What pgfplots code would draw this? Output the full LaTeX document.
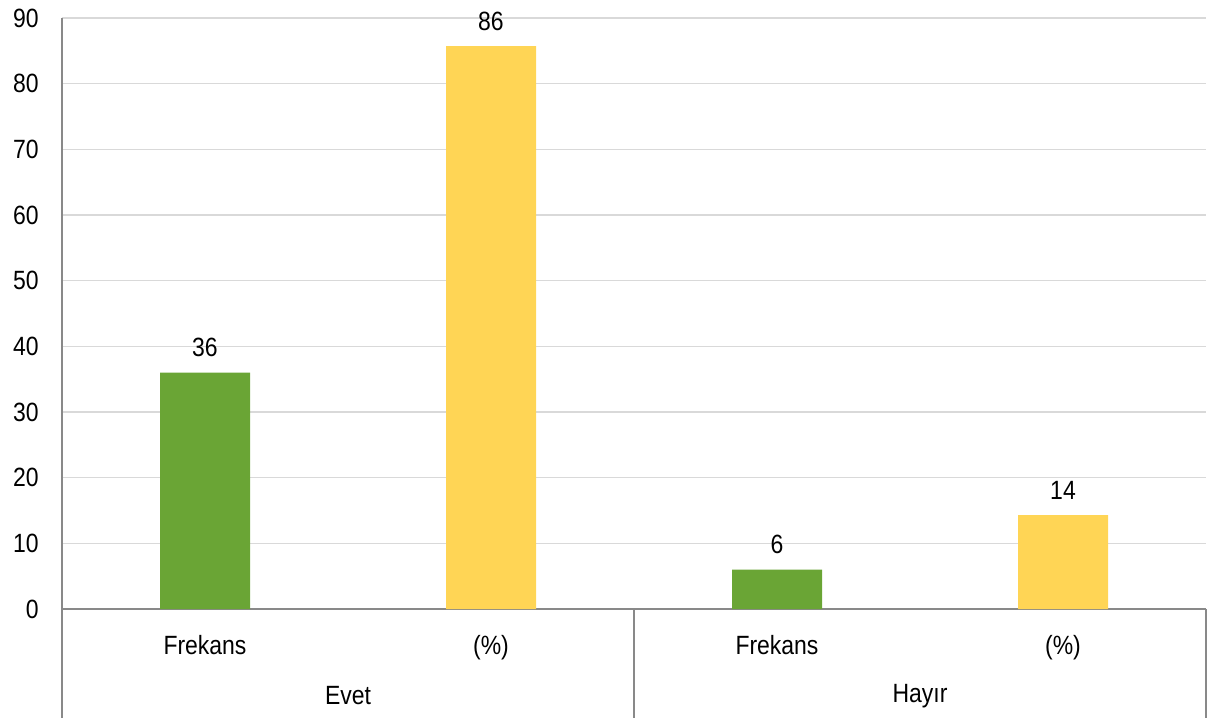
\documentclass[border=0pt]{standalone}
\usepackage{fontspec}
\setmainfont[FakeStretch=0.87]{Liberation Sans}
\usepackage{pgfplots}
\pgfplotsset{compat=1.18}
\definecolor{barGreen}{RGB}{106,165,53}
\definecolor{barYellow}{RGB}{255,213,85}
\definecolor{axGray}{RGB}{137,137,137}
\definecolor{gridGray}{RGB}{217,217,217}
\newcommand{\lbl}{\fontsize{19.8}{23}\selectfont}
\begin{document}
\begin{tikzpicture}
\begin{axis}[
  scale only axis,
  width=858pt, height=443.25pt,
  xmin=-0.5, xmax=3.5,
  ymin=0, ymax=90,
  ytick={0,10,...,90},
  xtick={0,1,2,3},
  xticklabels={Frekans,(\%),Frekans,(\%)},
  axis x line*=bottom, axis y line*=left,
  axis line style={axGray, line width=1.2pt, -},
  x axis line style={-}, y axis line style={-},
  major tick length=0pt,
  ymajorgrids, grid style={gridGray, line width=0.9pt},
  /pgf/number format/assume math mode=true,
  tick label style={font=\lbl, text=black},
  yticklabel style={xshift=-14pt},
  xticklabel style={yshift=-16pt},
  ybar, bar width=67.5pt, bar shift=0pt,
  clip=false,
  nodes near coords,
  point meta=explicit symbolic,
  every node near coord/.style={font=\lbl, text=black, anchor=south, yshift=8pt},
]
\addplot[draw=none, fill=barGreen] coordinates {(0,36) [36] (2,6) [6]};
\addplot[draw=none, fill=barYellow] coordinates {(1,85.7) [86] (3,14.3) [14]};
\draw[axGray, line width=1.2pt] (axis cs:-0.5,0) -- ([yshift=-81.75pt]axis cs:-0.5,0);
\draw[axGray, line width=1.2pt] (axis cs:1.5,0) -- ([yshift=-81.75pt]axis cs:1.5,0);
\draw[axGray, line width=1.2pt] (axis cs:3.5,0) -- ([yshift=-81.75pt]axis cs:3.5,0);
\node[font=\lbl] at ([yshift=-65pt]axis cs:0.5,0) {Evet};
\node[font=\lbl] at ([yshift=-65pt]axis cs:2.5,0) {Hayır};
\end{axis}
\path[use as bounding box] (-46.5pt,-81.75pt) rectangle (861pt,456.75pt);
\end{tikzpicture}
\end{document}
